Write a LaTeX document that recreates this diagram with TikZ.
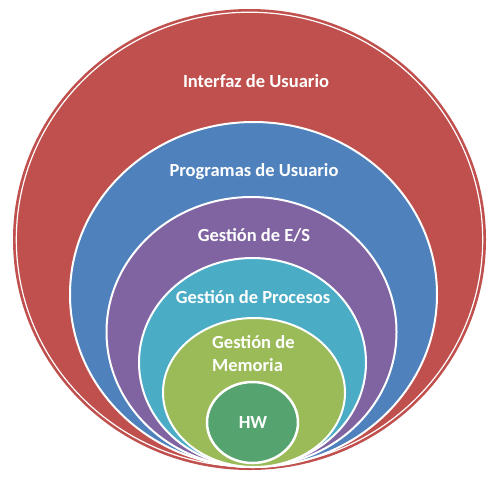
\documentclass[tikz,border=0pt]{standalone}
\usepackage{fontspec}
\setmainfont{Carlito}
\definecolor{cred}{HTML}{C0504D}
\definecolor{cblue}{HTML}{4F81BD}
\definecolor{cpurple}{HTML}{8064A2}
\definecolor{cteal}{HTML}{4BACC6}
\definecolor{cgreen}{HTML}{9BBB59}
\definecolor{chw}{HTML}{55A36E}
\begin{document}
\begin{tikzpicture}[x=1pt,y=-1pt,
  layer/.style={draw=white,line width=2pt},
  lbl/.style={text=white,font=\fontsize{18.5}{23}\selectfont\bfseries,inner sep=0pt}]
\useasboundingbox (0,0) rectangle (502,480);
% outer red
\fill[cred] (249.5,239.5) ellipse [x radius=236.5pt,y radius=230.5pt];
\draw[white,line width=1.2pt] (249.5,239.5) ellipse [x radius=233.2pt,y radius=227.3pt];
% inner layers
\draw[layer,fill=cblue] (253.5,294.5) ellipse [x radius=183.5pt,y radius=172.5pt];
\draw[layer,fill=cpurple] (251.5,332) ellipse [x radius=145pt,y radius=135pt];
\draw[layer,fill=cteal] (252.5,362.5) ellipse [x radius=113.5pt,y radius=104.5pt];
\draw[layer,fill=cgreen] (254,392.5) ellipse [x radius=91pt,y radius=74.5pt];
\draw[layer,line width=2.5pt,fill=chw] (252.5,422.5) ellipse [x radius=45.5pt,y radius=40.5pt];
% labels
\node[lbl] (ui) at (256,81) {Interfaz de Usuario};
\node[lbl] (pu) at (254,172) {Programas de Usuario};
\node[lbl] (es) at (254,235) {Gestión de E/S};
\node[lbl] (gp) at (253,297) {Gestión de Procesos};
\node[lbl,align=left,anchor=west] (gm) at (212,353.5) {Gestión de\\Memoria};
\node[lbl] (hw) at (253,422) {HW};
\end{tikzpicture}
\end{document}
